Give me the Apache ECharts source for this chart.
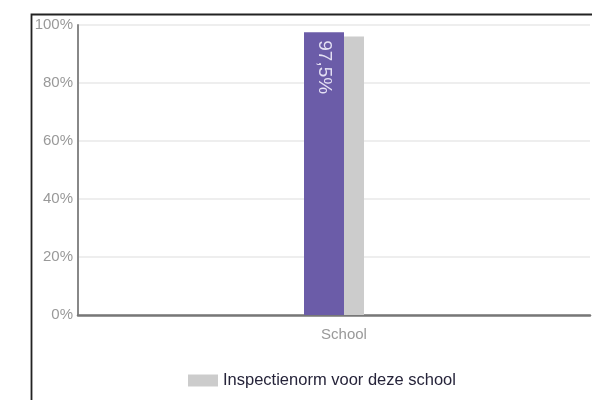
<!DOCTYPE html>
<html><head><meta charset="utf-8">
<script src="https://cdn.jsdelivr.net/npm/echarts@6/dist/echarts.min.js"></script>
<style>html,body{margin:0;padding:0;background:#fff}#c{width:592px;height:400px}</style>
</head><body><div id="c"></div>
<script>
var categories = ['School'];
var schoolValues = [97.5];
var normValues = [96];
var schoolLabels = ['97,5%'];
var yTicks = [0, 20, 40, 60, 80, 100];
var normName = 'Inspectienorm voor deze school';

var chart = echarts.init(document.getElementById('c'));
chart.setOption({
  animation: false,
  backgroundColor: '#fff',
  graphic: [{type:'rect', left:29, top:12, shape:{width:620, height:420}, style:{fill:'none', stroke:'#222', lineWidth:1.8}, z:100}],
  grid: {left:78, right:2, top:25, bottom:85},
  legend: {data:[normName], left:183, top:367, itemWidth:30, itemHeight:12, itemGap:8,
    icon:'rect', textStyle:{fontFamily:'Liberation Sans', fontSize:16.5, color:'#26243a'}},
  xAxis: {type:'category', data:categories,
    axisLine:{lineStyle:{color:'#777', width:2.5}}, axisTick:{show:false},
    axisLabel:{fontFamily:'Liberation Sans', fontSize:15, color:'#999', margin:12, padding:[0,0,0,20]}},
  yAxis: {type:'value', min:yTicks[0], max:yTicks[yTicks.length-1], interval:20,
    axisLine:{show:true, lineStyle:{color:'#888', width:2}}, axisTick:{show:false},
    splitLine:{lineStyle:{color:'#e8e8e8', width:1.5}},
    axisLabel:{formatter:'{value}%', fontFamily:'Liberation Sans', fontSize:15, color:'#999', margin:5}},
  series: [
    {name:'School', type:'bar', data:schoolValues, barWidth:40, z:3,
      itemStyle:{color:'#6b5ca8'},
      label:{show:true, position:'insideTop', rotate:-90, align:'left', verticalAlign:'middle', distance:8,
        fontFamily:'Liberation Sans', fontSize:19, color:'#e4e0f4',
        formatter:function(p){return schoolLabels[p.dataIndex];}}},
    {name:normName, type:'bar', data:normValues, barWidth:40, barGap:'-50%', z:2,
      itemStyle:{color:'#cccccc'}}
  ]
});
</script></body></html>
